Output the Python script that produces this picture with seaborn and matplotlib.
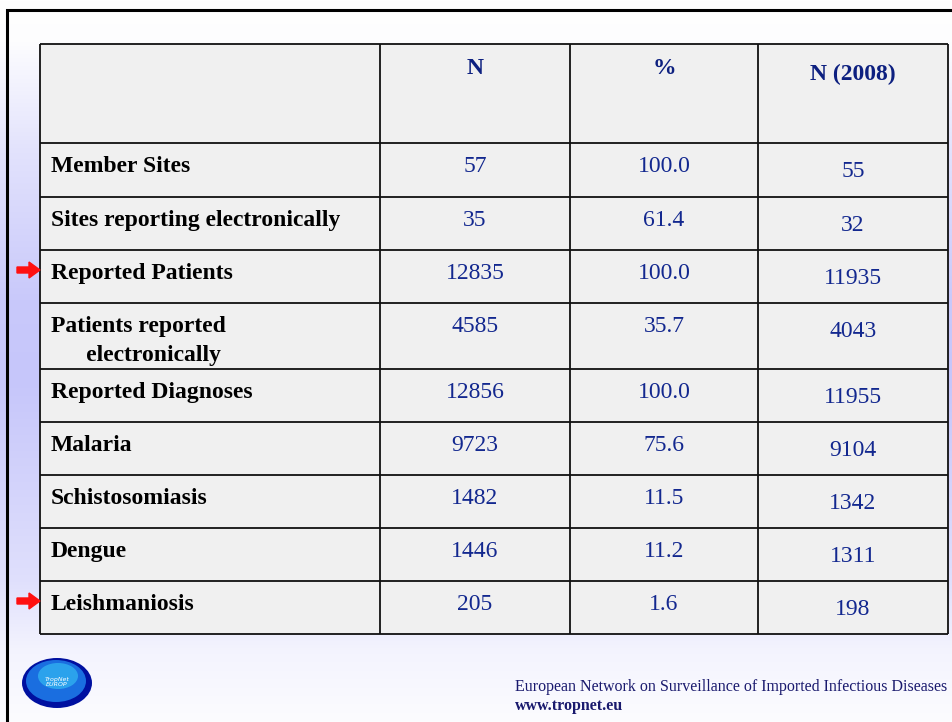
import numpy as np
import matplotlib
matplotlib.use("Agg")
import matplotlib.pyplot as plt
from matplotlib.patches import Rectangle, Ellipse
import seaborn as sns

# Table data
headers = ["N", "%", "N (2008)"]
row_labels = ["Member Sites", "Sites reporting electronically", "Reported Patients",
              "Patients reported\n      electronically", "Reported Diagnoses", "Malaria",
              "Schistosomiasis", "Dengue", "Leishmaniosis"]
n_values = ["57", "35", "12835", "4585", "12856", "9723", "1482", "1446", "205"]
pct_values = ["100.0", "61.4", "100.0", "35.7", "100.0", "75.6", "11.5", "11.2", "1.6"]
n2008_values = ["55", "32", "11935", "4043", "11955", "9104", "1342", "1311", "198"]
flagged_rows = ["Reported Patients", "Leishmaniosis"]

footer_line1 = "European Network on Surveillance of Imported Infectious Diseases"
footer_line2 = "www.tropnet.eu"

# layout (pixels)
col_edges = [40, 380, 570, 758, 948]
row_edges = [44, 143, 197, 250, 303, 369, 422, 475, 528, 581, 634]

sns.set_theme(style="white")
plt.rcParams['font.family'] = ['Liberation Serif', 'DejaVu Serif']

fig = plt.figure(figsize=(9.53, 7.22), dpi=100)
ax = fig.add_axes([0, 0, 1, 1])
ax.set_xlim(0, 953)
ax.set_ylim(722, 0)
ax.axis('off')

# slide background: lavender band fading to white at top and bottom
yy = np.arange(722)
t = np.interp(yy, [0, 40, 150, 300, 380, 580, 650, 722], [0, 0.03, 0.5, 0.95, 1, 0.55, 0.2, 0.05])
lav = np.array([198, 198, 250]) / 255
grad = (1 - t)[:, None] * np.ones(3) + t[:, None] * lav
ax.imshow(grad[:, None, :], extent=[0, 953, 722, 0], aspect='auto', zorder=0)

# slide frame
ax.plot([7, 7, 953], [722, 10, 10], color='black', lw=2.2, zorder=1, solid_joinstyle='miter')

# table body
ax.add_patch(Rectangle((col_edges[0], row_edges[0]), col_edges[-1] - col_edges[0],
                       row_edges[-1] - row_edges[0], facecolor='#f0f0f0', edgecolor='none', zorder=1))
ax.hlines(row_edges, col_edges[0], col_edges[-1], color='#111111', lw=1.3, zorder=2)
ax.vlines(col_edges, row_edges[0], row_edges[-1], color='#111111', lw=1.3, zorder=2)

navy = '#13288f'
fs = 17

col_centers = [(col_edges[i] + col_edges[i + 1]) / 2 for i in range(1, 4)]
header_dy = [30, 30, 36]
for cx, h, dy in zip(col_centers, headers, header_dy):
    ax.text(cx, row_edges[0] + dy, h, ha='center', va='baseline', fontsize=fs,
            fontweight='bold', color='#0d2080', zorder=3)

for i, lab in enumerate(row_labels):
    top = row_edges[i + 1]
    for k, line in enumerate(lab.split('\n')):
        ax.text(51, top + 29 + 29 * k, line, ha='left', va='baseline', fontsize=fs,
                fontweight='bold', color='black', zorder=3)
    ax.text(col_centers[0], top + 29, n_values[i], ha='center', va='baseline', fontsize=fs,
            color=navy, zorder=3)
    ax.text(col_centers[1], top + 29, pct_values[i], ha='center', va='baseline', fontsize=fs,
            color=navy, zorder=3)
    ax.text(col_centers[2], top + 34, n2008_values[i], ha='center', va='baseline', fontsize=fs,
            color=navy, zorder=3)
    if lab in flagged_rows:
        ax.arrow(17, top + 20, 12, 0, width=6, head_width=16, head_length=11,
                 color='#ff1010', length_includes_head=False, zorder=3)

# logo
ax.add_patch(Ellipse((57, 683), 70, 50, facecolor='#0010a0', edgecolor='none', zorder=2))
ax.add_patch(Ellipse((56, 681), 60, 42, facecolor='#1a6ee0', edgecolor='none', zorder=2))
ax.add_patch(Ellipse((58, 676), 40, 26, facecolor='#30b0f0', edgecolor='none', alpha=0.8, zorder=2))
ax.text(57, 682, "TropNet\nEUROP", ha='center', va='center', fontsize=4.5, color='white',
        family='DejaVu Sans', style='italic', zorder=3)

# footer
ax.text(515, 691, footer_line1, ha='left', va='baseline', fontsize=11.5, color='#1a1a6e', zorder=3)
ax.text(515, 710, footer_line2, ha='left', va='baseline', fontsize=11.5, fontweight='bold',
        color='#1a1a6e', zorder=3)

fig.savefig("out.png", dpi=100)
